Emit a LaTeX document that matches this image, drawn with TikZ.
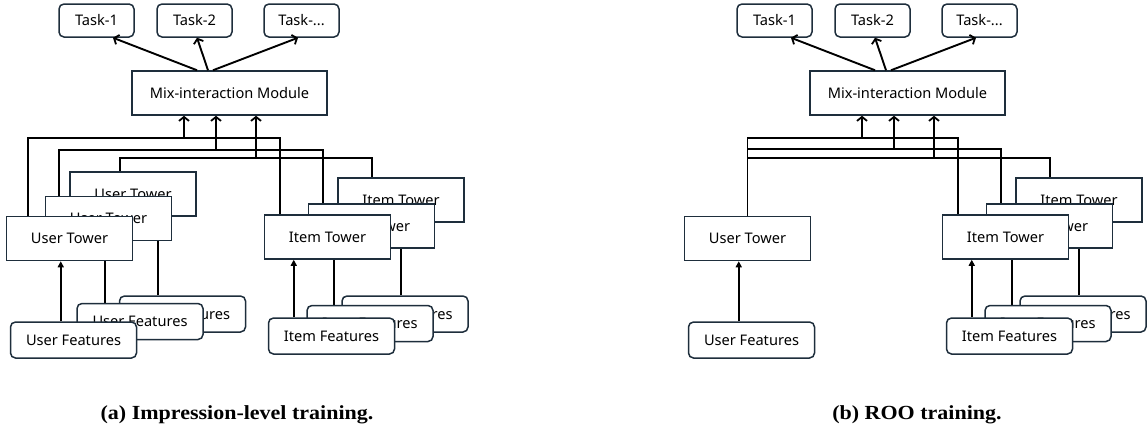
\documentclass[tikz,border=0pt]{standalone}
\usepackage{fontspec}
\setmainfont{Noto Sans}
\newfontfamily\capfont[FakeStretch=1.1]{Liberation Serif}
\usetikzlibrary{arrows.meta}
\pgfdeclarelayer{background}
\pgfsetlayers{background,main}
\definecolor{boxc}{HTML}{1E2E3C}
\tikzset{
  box/.style={draw=boxc, line width=1.5pt, fill=white, inner sep=0pt,
    font=\fontsize{14.6}{17}\selectfont, text=black},
  task/.style={box, rounded corners=5pt, minimum width=75pt, minimum height=33pt},
  mixbox/.style={box, minimum width=195pt, minimum height=44pt},
  tower/.style={box, minimum width=126pt, minimum height=44pt},
  feat/.style={box, rounded corners=5pt, minimum width=126pt, minimum height=36pt},
  conn/.style={line width=1.9pt, black},
  up/.style={conn, -{Straight Barb[length=4pt,width=10pt,line width=1.8pt]}},
  feedarrow/.style={conn, -{Triangle[length=6pt,width=6pt]}},
  caption/.style={font=\capfont\bfseries\fontsize{20}{24}\selectfont}
}
\begin{document}
\begin{tikzpicture}[x=1pt,y=-1pt]
\useasboundingbox (0,0) rectangle (1148,434);

% ---------------- panel (a) ----------------
\node[task] (aT1) at (96.5,20.5) {Task-1};
\node[task] (aT2) at (194.5,20.5) {Task-2};
\node[task] (aT3) at (301.5,20.5) {Task-...};
\node[mixbox] (aM) at (229.5,93) {Mix-interaction Module};

\node[tower] (aU3) at (133,194) {User Tower};
\node[tower] (aU2) at (108.5,218.5) {User Tower};
\node[tower] (aU1) at (69.5,238.5) {User Tower};
\node[tower] (aI3) at (401,200) {Item Tower};
\node[tower] (aI2) at (371.5,226) {Item Tower};
\node[tower] (aI1) at (327.5,237) {Item Tower};

\node[feat] (aF3) at (182.5,314) {User Features};
\node[feat] (aF2) at (140,321.5) {User Features};
\node[feat] (aF1) at (73.5,340) {User Features};
\node[feat] (aG3) at (405,314) {Item Features};
\node[feat] (aG2) at (370,323.5) {Item Features};
\node[feat] (aG1) at (331.5,336) {Item Features};

\coordinate (aj1) at (184,138);
\coordinate (aj2) at (216,150);
\coordinate (aj3) at (256,158);

\draw[up] ([xshift=-32.5pt]aM.north) -- ([xshift=16.5pt]aT1.south);
\draw[up] ([xshift=-21.5pt]aM.north) -- ([xshift=2.5pt]aT2.south);
\draw[up] ([xshift=-16.5pt]aM.north) -- ([xshift=-3.5pt]aT3.south);

\begin{pgfonlayer}{background}
\draw[conn] ([xshift=22pt]aU1.north west) |- (aj1) -| ([xshift=16pt]aI1.north west);
\draw[conn] ([xshift=14pt]aU2.north west) |- (aj2) -| ([xshift=15pt]aI2.north west);
\draw[conn] ([xshift=51pt]aU3.north west) |- (aj3) -| ([xshift=35pt]aI3.north west);
\draw[conn] ([xshift=29pt]aF2.north west) -- ([xshift=29pt]aF2.north west |- aU2.south);
\draw[conn] ([xshift=39pt]aF3.north west) -- ([xshift=39pt]aF3.north west |- aU3.south);
\draw[conn] ([xshift=28pt]aG2.north west) -- ([xshift=28pt]aG2.north west |- aI2.south);
\draw[conn] ([xshift=60pt]aG3.north west) -- ([xshift=60pt]aG3.north west |- aI3.south);
\end{pgfonlayer}
\draw[up] (aj1) -- (aj1 |- aM.south);
\draw[up] (aj2) -- (aj2 |- aM.south);
\draw[up] (aj3) -- (aj3 |- aM.south);
\draw[feedarrow] ([xshift=51pt]aF1.north west) -- ([xshift=51pt]aF1.north west |- aU1.south);
\draw[feedarrow] ([xshift=26pt]aG1.north west) -- ([xshift=26pt]aG1.north west |- aI1.south);

\node[caption] (acap) at (237,415) {(a) Impression-level training.};

% ---------------- panel (b) ----------------
\begin{scope}[xshift=678pt]
\node[task] (bT1) at (96.5,20.5) {Task-1};
\node[task] (bT2) at (194.5,20.5) {Task-2};
\node[task] (bT3) at (301.5,20.5) {Task-...};
\node[mixbox] (bM) at (229.5,93) {Mix-interaction Module};

\node[tower] (bU1) at (69.5,238.5) {User Tower};
\node[tower] (bI3) at (401,200) {Item Tower};
\node[tower] (bI2) at (371.5,226) {Item Tower};
\node[tower] (bI1) at (327.5,237) {Item Tower};

\node[feat] (bF1) at (73.5,340) {User Features};
\node[feat] (bG3) at (405,314) {Item Features};
\node[feat] (bG2) at (370,323.5) {Item Features};
\node[feat] (bG1) at (331.5,336) {Item Features};

\coordinate (bj1) at (184,138);
\coordinate (bj2) at (216,149);
\coordinate (bj3) at (256,158);

\draw[up] ([xshift=-32.5pt]bM.north) -- ([xshift=16.5pt]bT1.south);
\draw[up] ([xshift=-21.5pt]bM.north) -- ([xshift=2.5pt]bT2.south);
\draw[up] ([xshift=-16.5pt]bM.north) -- ([xshift=-3.5pt]bT3.south);

\begin{pgfonlayer}{background}
\draw[conn] (bU1.north) |- (bj1) -| ([xshift=16pt]bI1.north west);
\draw[conn] (bU1.north) |- (bj2) -| ([xshift=15pt]bI2.north west);
\draw[conn] (bU1.north) |- (bj3) -| ([xshift=35pt]bI3.north west);
\draw[conn] ([xshift=28pt]bG2.north west) -- ([xshift=28pt]bG2.north west |- bI2.south);
\draw[conn] ([xshift=60pt]bG3.north west) -- ([xshift=60pt]bG3.north west |- bI3.south);
\end{pgfonlayer}
\draw[up] (bj1) -- (bj1 |- bM.south);
\draw[up] (bj2) -- (bj2 |- bM.south);
\draw[up] (bj3) -- (bj3 |- bM.south);
\draw[feedarrow] ([xshift=51pt]bF1.north west) -- ([xshift=51pt]bF1.north west |- bU1.south);
\draw[feedarrow] ([xshift=26pt]bG1.north west) -- ([xshift=26pt]bG1.north west |- bI1.south);
\end{scope}

\node[caption] (bcap) at (917,415) {(b) ROO training.};
\end{tikzpicture}
\end{document}
